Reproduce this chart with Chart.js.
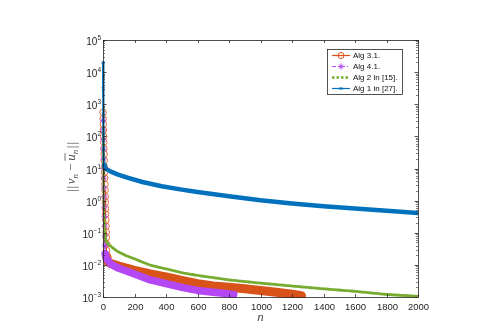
<!DOCTYPE html>
<html>
<head>
<meta charset="utf-8">
<script src="https://cdn.jsdelivr.net/npm/chart.js@4.4.1/dist/chart.umd.min.js"></script>
<style>
html, body { margin: 0; padding: 0; background: #fff; }
</style>
</head>
<body>
<canvas id="chart" width="480" height="333"></canvas>
<script>
// Iterace n a chyba ||v_n - ū_n||
const alg31N = [0, 1, 2, 3, 4, 5, 6, 7, 8, 9, 10, 11, 12, 13, 14, 15, 16, 17, 18, 19, 20, 21, 22, 23, 24,
    30, 50, 100, 200, 300, 400, 500, 600, 700, 800, 900, 1000, 1100, 1200, 1260];
const alg31V = [560, 355, 240, 158, 100, 66, 42, 28, 17.8, 11.2, 7.6, 5.0, 3.2, 2.1, 1.32, 0.89, 0.56, 0.38,
    0.25, 0.16, 0.105, 0.071, 0.045, 0.028, 0.018,
    0.0125, 0.011, 0.0092, 0.0068, 0.0052, 0.0042, 0.0033, 0.0026, 0.0022, 0.002, 0.0018, 0.0016, 0.0014, 0.00122, 0.0011];

const alg41N = [0, 1, 2, 3, 4, 5, 6, 7, 8, 9, 10, 11, 12, 13, 14,
    20, 30, 50, 100, 200, 300, 400, 500, 600, 700, 800, 830];
const alg41V = [316, 160, 80, 40, 20, 10, 5, 2.5, 1.3, 0.63, 0.32, 0.16, 0.08, 0.04, 0.022,
    0.016, 0.014, 0.0105, 0.0078, 0.0052, 0.0034, 0.0026, 0.002, 0.0016, 0.0014, 0.00125, 0.0012];

const alg2N = [0, 2, 4, 6, 8, 10, 15, 20, 30, 50, 75, 100, 150, 200, 250, 300, 400, 500, 600, 800, 1000, 1200, 1400, 1600, 1800, 2000];
const alg2V = [200, 30, 5, 1, 0.3, 0.12, 0.07, 0.055, 0.046, 0.038, 0.03, 0.025, 0.019, 0.0155, 0.0122, 0.0098, 0.0075, 0.0057, 0.0047,
    0.0034, 0.0027, 0.0022, 0.0018, 0.0015, 0.0012, 0.00105];

const alg1N = [0, 1, 2, 3, 4, 5, 7, 10, 20, 50, 100, 160, 250, 373, 500, 600, 800, 1000, 1200, 1400, 1600, 1800, 2000];
const alg1V = [20000, 3000, 500, 120, 40, 20, 13, 11, 9.6, 8.0, 6.3, 5.1, 3.8, 2.8, 2.2, 1.85, 1.36, 1.02, 0.82, 0.67, 0.57, 0.48, 0.41];

const seriesLabels = ['Alg 3.1.', 'Alg 4.1.', 'Alg 2 in [15].', 'Alg 1 in [27].'];
const xTicks = [0, 200, 400, 600, 800, 1000, 1200, 1400, 1600, 1800, 2000];
const yExponents = [-3, -2, -1, 0, 1, 2, 3, 4, 5];

const COL_ORANGE = '#D95319';
const COL_PURPLE = '#B548F5';
const COL_GREEN = '#77AC30';
const COL_BLUE = '#0072BD';

function pts(n, v) {
    return n.map((x, i) => ({ x: x, y: v[i] }));
}

// dataset: tenká "hlava" se značkami pro první iterace, pak tlustý pás
function makeSet(label, n, v, opt) {
    const headCount = n.filter(x => x <= opt.headEnd).length;
    return {
        label: label,
        data: pts(n, v),
        order: opt.order,
        borderColor: opt.color,
        backgroundColor: 'rgba(0,0,0,0)',
        borderWidth: opt.band,
        borderCapStyle: 'round',
        borderJoinStyle: 'round',
        pointStyle: opt.pointStyle || 'circle',
        pointRadius: ctx => (ctx.dataIndex < headCount ? (opt.pointR || 0) : 0),
        pointBorderColor: opt.pointColor || opt.color,
        pointBackgroundColor: 'rgba(0,0,0,0)',
        pointBorderWidth: 1,
        tension: 0,
        clip: { left: 4, top: 0, right: 0, bottom: 1 },
        segment: {
            borderWidth: ctx => (ctx.p1DataIndex < headCount ? opt.headW : opt.band),
            borderDash: ctx => (ctx.p1DataIndex < headCount ? (opt.headDash || []) : (opt.bandDash || []))
        }
    };
}

const datasets = [
    makeSet(seriesLabels[0], alg31N, alg31V, { color: COL_ORANGE, pointColor: '#E36A3E', band: 9, headW: 1, headEnd: 24, pointR: 3.3, order: 4 }),
    makeSet(seriesLabels[1], alg41N, alg41V, { color: COL_PURPLE, band: 7.5, headW: 1, headEnd: 14, pointR: 3, pointStyle: 'star', headDash: [4, 2, 1, 2], order: 3 }),
    makeSet(seriesLabels[2], alg2N, alg2V, { color: COL_GREEN, band: 2.8, headW: 2, headEnd: 10, bandDash: [3, 1.2], headDash: [2, 1.5], order: 2 }),
    makeSet(seriesLabels[3], alg1N, alg1V, { color: COL_BLUE, band: 4.5, headW: 2, headEnd: 7, pointR: 2, pointStyle: 'crossRot', order: 1 })
];

// Rámeček, ticky, popisky os a legenda ve stylu MATLABu
const matlabAxes = {
    id: 'matlabAxes',
    afterDraw: (chart) => {
        const ctx = chart.ctx;
        const xs = chart.scales.x;
        const ys = chart.scales.y;
        const a = chart.chartArea;
        const ink = '#262626';

        ctx.save();
        ctx.strokeStyle = ink;
        ctx.lineWidth = 0.8;
        ctx.strokeRect(a.left + 0.5, a.top + 0.5, a.right - a.left, a.bottom - a.top);

        // x ticky
        ctx.fillStyle = ink;
        ctx.font = '9.5px "Liberation Sans", Arial, sans-serif';
        ctx.textAlign = 'center';
        ctx.textBaseline = 'middle';
        xTicks.forEach(t => {
            const x = Math.round(xs.getPixelForValue(t)) + 0.5;
            ctx.beginPath();
            ctx.moveTo(x, a.bottom);
            ctx.lineTo(x, a.bottom - 3);
            ctx.moveTo(x, a.top);
            ctx.lineTo(x, a.top + 3);
            ctx.stroke();
            ctx.fillText(String(t), x, a.bottom + 10);
        });

        // y ticky (dekády + vedlejší)
        ctx.beginPath();
        for (let k = -3; k < 5; k++) {
            for (let m = 2; m <= 9; m++) {
                const y = Math.round(ys.getPixelForValue(m * Math.pow(10, k))) + 0.5;
                ctx.moveTo(a.left, y);
                ctx.lineTo(a.left + 2, y);
                ctx.moveTo(a.right, y);
                ctx.lineTo(a.right - 2, y);
            }
        }
        ctx.lineWidth = 0.6;
        ctx.stroke();
        ctx.lineWidth = 0.8;
        yExponents.forEach(k => {
            const y = Math.round(ys.getPixelForValue(Math.pow(10, k))) + 0.5;
            ctx.beginPath();
            ctx.moveTo(a.left, y);
            ctx.lineTo(a.left + 3.5, y);
            ctx.moveTo(a.right, y);
            ctx.lineTo(a.right - 3.5, y);
            ctx.stroke();

            const exp = String(k).replace('-', '\u2212');
            ctx.textAlign = 'left';
            ctx.textBaseline = 'alphabetic';
            ctx.font = '6.5px "Liberation Sans", Arial, sans-serif';
            const ew = ctx.measureText(exp).width;
            const right = a.left - 2;
            ctx.fillText(exp, right - ew, y - 1);
            ctx.font = '10px "Liberation Sans", Arial, sans-serif';
            ctx.textAlign = 'right';
            ctx.fillText('10', right - ew, y + 4);
        });

        // popisek osy x
        ctx.fillStyle = '#4a4a4a';
        ctx.font = 'italic 13px "Liberation Serif", "DejaVu Serif", serif';
        ctx.textAlign = 'center';
        ctx.textBaseline = 'middle';
        ctx.fillText('n', (a.left + a.right) / 2, 318);

        // popisek osy y: ||v_n − ū_n||
        ctx.save();
        ctx.translate(71, 167);
        ctx.rotate(-Math.PI / 2);
        ctx.textBaseline = 'alphabetic';
        ctx.textAlign = 'left';
        const big = '13px "Liberation Serif", serif';
        const it = 'italic 13px "Liberation Serif", serif';
        const sub = 'italic 9px "Liberation Serif", serif';
        const parts = [
            { t: '|', f: big, dy: 1, gap: 1 },
            { t: '|', f: big, dy: 1, gap: 1.5 },
            { t: 'v', f: it, dy: 0 },
            { t: 'n', f: sub, dy: 2.5, gap: 3 },
            { t: '\u2212', f: big, dy: 0, gap: 3 },
            { t: 'u', f: it, dy: 0, bar: true },
            { t: 'n', f: sub, dy: 2.5, gap: 1.5 },
            { t: '|', f: big, dy: 1, gap: 1 },
            { t: '|', f: big, dy: 1 }
        ];
        let total = 0;
        parts.forEach(p => {
            ctx.font = p.f;
            p.w = ctx.measureText(p.t).width;
            total += p.w + (p.gap || 0);
        });
        let px = -total / 2;
        ctx.strokeStyle = '#4a4a4a';
        ctx.lineWidth = 0.8;
        parts.forEach(p => {
            ctx.font = p.f;
            ctx.fillText(p.t, px, 4 + p.dy);
            if (p.bar) {
                ctx.beginPath();
                ctx.moveTo(px, -6);
                ctx.lineTo(px + p.w + 1, -6);
                ctx.stroke();
            }
            px += p.w + (p.gap || 0);
        });
        ctx.restore();

        // legenda
        const lx = 327, ly = 49, lw = 75, lh = 45;
        ctx.fillStyle = '#fff';
        ctx.fillRect(lx, ly, lw, lh);
        ctx.strokeStyle = ink;
        ctx.lineWidth = 0.8;
        ctx.strokeRect(lx + 0.5, ly + 0.5, lw, lh);
        const rows = [55.5, 66.5, 77.5, 88.5];
        const styles = [
            { c: COL_ORANGE, w: 1.2, dash: [], mark: 'circle' },
            { c: COL_PURPLE, w: 1.2, dash: [4, 2, 1, 2], mark: 'star' },
            { c: COL_GREEN, w: 2.5, dash: [2.5, 2], mark: null },
            { c: COL_BLUE, w: 1.2, dash: [], mark: 'x' }
        ];
        rows.forEach((y, i) => {
            const s = styles[i];
            ctx.strokeStyle = s.c;
            ctx.lineWidth = s.w;
            ctx.setLineDash(s.dash);
            ctx.beginPath();
            ctx.moveTo(332, y);
            ctx.lineTo(350, y);
            ctx.stroke();
            ctx.setLineDash([]);
            ctx.lineWidth = 1;
            ctx.beginPath();
            if (s.mark === 'circle') {
                ctx.arc(341, y, 3, 0, Math.PI * 2);
            } else if (s.mark === 'star') {
                ctx.moveTo(338, y); ctx.lineTo(344, y);
                ctx.moveTo(341, y - 3); ctx.lineTo(341, y + 3);
                ctx.moveTo(339, y - 2); ctx.lineTo(343, y + 2);
                ctx.moveTo(343, y - 2); ctx.lineTo(339, y + 2);
            } else if (s.mark === 'x') {
                ctx.moveTo(339.5, y - 1.5); ctx.lineTo(342.5, y + 1.5);
                ctx.moveTo(342.5, y - 1.5); ctx.lineTo(339.5, y + 1.5);
            }
            ctx.stroke();
            ctx.fillStyle = '#111';
            ctx.font = '8px "Liberation Sans", Arial, sans-serif';
            ctx.textAlign = 'left';
            ctx.textBaseline = 'middle';
            ctx.fillText(seriesLabels[i], 353, y + 0.5);
        });
        ctx.restore();
    }
};

new Chart(document.getElementById('chart'), {
    type: 'line',
    data: { datasets: datasets },
    options: {
        responsive: false,
        animation: false,
        events: [],
        layout: { padding: { left: 103, right: 62, top: 40, bottom: 36 } },
        plugins: {
            legend: { display: false },
            tooltip: { enabled: false }
        },
        scales: {
            x: { type: 'linear', min: 0, max: 2000, display: false },
            y: { type: 'logarithmic', min: 1e-3, max: 1e5, display: false }
        }
    },
    plugins: [matlabAxes]
});
</script>
</body>
</html>
